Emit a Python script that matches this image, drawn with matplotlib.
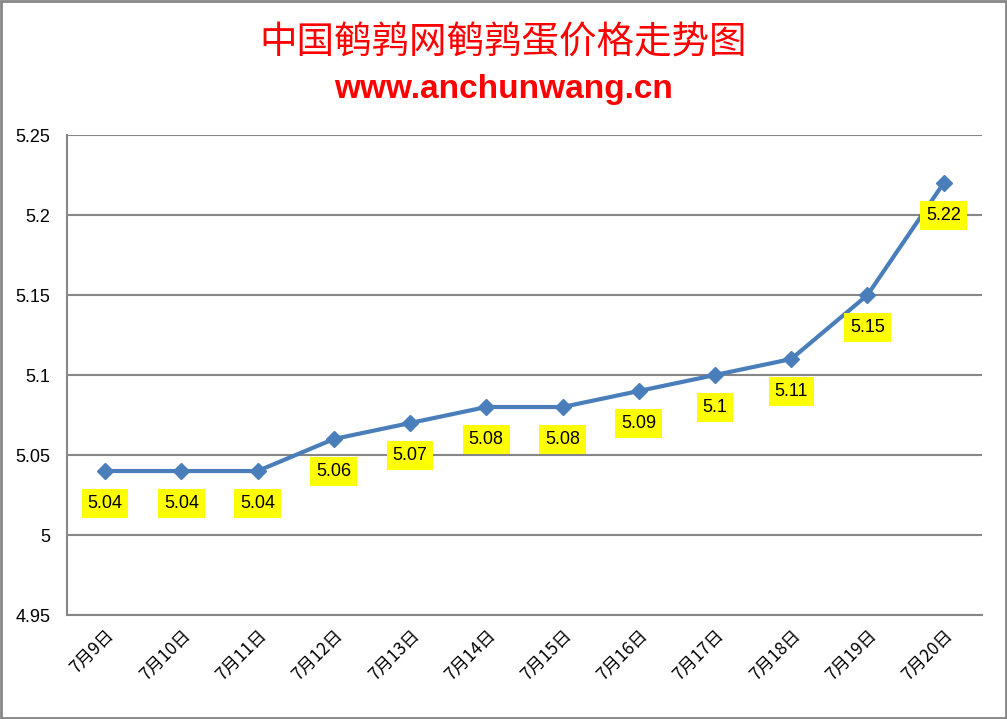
import numpy as np
import matplotlib.pyplot as plt
from matplotlib.patches import Rectangle

plt.rcParams['font.family'] = ['Noto Sans CJK SC', 'DejaVu Sans']

dates = ['7月9日', '7月10日', '7月11日', '7月12日', '7月13日', '7月14日',
         '7月15日', '7月16日', '7月17日', '7月18日', '7月19日', '7月20日']
prices = [5.04, 5.04, 5.04, 5.06, 5.07, 5.08, 5.08, 5.09, 5.10, 5.11, 5.15, 5.22]
yticks = [4.95, 5.0, 5.05, 5.1, 5.15, 5.2, 5.25]

fig = plt.figure(figsize=(10.07, 7.19), dpi=100)
# 外框
fig.patches.append(Rectangle((0.001, 0.001), 0.998, 0.997, transform=fig.transFigure,
                             fill=False, edgecolor='#868686', linewidth=2))
ax = fig.add_axes([0.0665, 0.1446, 0.9085, 0.6676])

x = np.arange(len(dates))
ax.plot(x, prices, color='#4A7EBB', linewidth=3, marker='D', markersize=8,
        markerfacecolor='#4A7EBB', markeredgecolor='#4A7EBB', zorder=3)

# 数据标签，黄色底
for xi, yi in zip(x, prices):
    ax.annotate('{:g}'.format(yi), (xi, yi), xytext=(0, -23.5), textcoords='offset points',
                ha='center', va='center', fontsize=13, family=['Liberation Sans', 'DejaVu Sans'],
                bbox=dict(boxstyle='square,pad=0.32', facecolor='#FFFF00', edgecolor='none'),
                zorder=4)

ax.set_xlim(-0.5, len(dates) - 0.5)
ax.set_ylim(4.95, 5.25)
ax.set_yticks(yticks)
ax.set_yticklabels(['{:g}'.format(v) for v in yticks], fontsize=13,
                   family=['Liberation Sans', 'DejaVu Sans'])
ax.set_xticks(x)
ax.set_xticklabels(dates, rotation=45, ha='right', rotation_mode='anchor', fontsize=12.5)
ax.tick_params(axis='both', length=0, pad=12)
ax.tick_params(axis='x', pad=8)

ax.grid(axis='y', color='#868686', linewidth=1.5)
ax.set_axisbelow(True)
for s in ['top', 'right']:
    ax.spines[s].set_visible(False)
for s in ['left', 'bottom']:
    ax.spines[s].set_color('#868686')
    ax.spines[s].set_linewidth(1.5)

fig.text(0.5, 0.940, '中国鹌鹑网鹌鹑蛋价格走势图', ha='center', va='center',
         fontsize=27, color='#FF0000')
fig.text(0.5, 0.876, 'www.anchunwang.cn', ha='center', va='center', fontsize=24,
         fontweight='bold', color='#FF0000', family=['Liberation Sans', 'DejaVu Sans'])

plt.savefig('out.png', dpi=100)
plt.close()
